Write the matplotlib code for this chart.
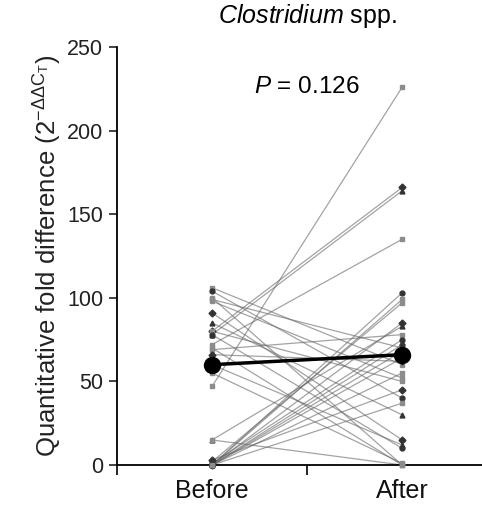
import matplotlib.pyplot as plt
import numpy as np

plt.rcParams['font.family'] = ['Liberation Sans', 'DejaVu Sans']
plt.rcParams['mathtext.fontset'] = 'custom'
plt.rcParams['mathtext.rm'] = 'Liberation Sans'
plt.rcParams['mathtext.it'] = 'Liberation Sans:italic'

# paired fold differences per subject
before = [47, 80, 78, 72, 0, 0, 2, 0, 15, 106, 104, 99, 98, 91, 85, 80, 78, 70,
          69, 66, 60, 55, 0, 0, 0, 3, 0, 15, 1, 0, 100]
after = [226, 166, 164, 135, 103, 99, 97, 85, 83, 60, 40, 70, 52, 15, 30, 50, 10, 0,
         78, 62, 12, 1, 72, 64, 55, 45, 68, 0, 75, 37, 0]
mean_before = 60
mean_after = 66
groups = ['Before', 'After']
p_text = r'$P$ = 0.126'

fig = plt.figure(figsize=(4.82, 5.07), dpi=100)
ax = fig.add_axes([0.2427, 0.0828, 0.7573, 0.8245])

shapes = ['s', 'D', '^', 's', 'o', 's']
for i, (b, a) in enumerate(zip(before, after)):
    m = shapes[i % len(shapes)]
    ax.plot([1, 2], [b, a], color='0.4', lw=0.9, alpha=0.6, zorder=2)
    ax.plot([1, 2], [b, a], ls='none', marker=m, ms=3.5,
            color='0.2' if m in ('D', '^', 'o') else '0.55',
            zorder=3, clip_on=False)

ax.plot([1, 2], [mean_before, mean_after], color='black', lw=2.5,
        marker='o', ms=11.5, zorder=5)

ax.set_xlim(0.5, 2.42)
ax.set_ylim(0, 250)
ax.spines['top'].set_visible(False)
ax.spines['right'].set_visible(False)
ax.spines['left'].set_bounds(0, 250)
ax.spines['left'].set_linewidth(1.3)
ax.spines['bottom'].set_linewidth(1.3)

ax.set_yticks(np.arange(0, 251, 50))
ax.tick_params(axis='y', direction='out', length=6, width=1.2, labelsize=15.5,
               pad=4, colors='#222222')
ax.set_xticks([0.5, 1.5])
ax.set_xticklabels(['', ''])
ax.set_xticks([1, 2], minor=True)
ax.set_xticklabels(groups, minor=True)
ax.tick_params(axis='x', which='major', direction='out', length=7, width=1.2)
ax.tick_params(axis='x', which='minor', length=0, labelsize=18, pad=10,
               colors='#111111')

ax.set_ylabel(r'Quantitative fold difference (2$^{-\Delta\Delta \mathrm{C}_\mathrm{T}}$)',
              fontsize=18.5, labelpad=2, color='#222222')

ax.text(1.5, 260, r'$\it{Clostridium}$ spp.', ha='center', va='bottom',
        fontsize=18, clip_on=False)
ax.text(1.5, 226, p_text, ha='center', va='center', fontsize=17.5)

fig.savefig('out.png', dpi=100)
